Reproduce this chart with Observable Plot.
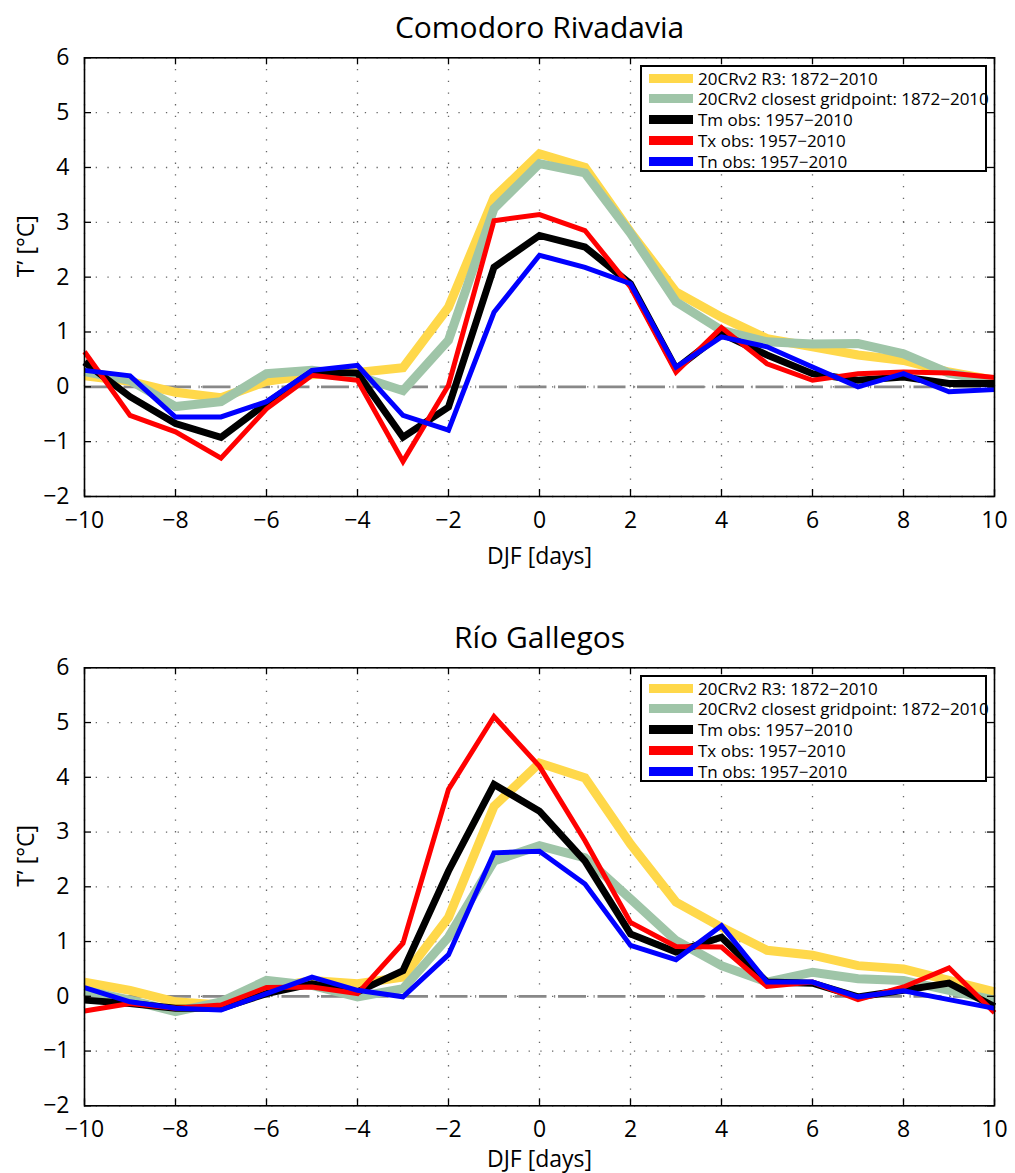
<!DOCTYPE html>
<html><head><meta charset="utf-8">
<script src="https://cdn.jsdelivr.net/npm/d3@7"></script>
<script src="https://cdn.jsdelivr.net/npm/@observablehq/plot@0.6"></script>
<style>
body{margin:0;background:#fff;font-family:"Open Sans",sans-serif;}
#wrap{position:relative;width:1015px;height:1173px;overflow:hidden;}
.panel{position:absolute;left:0;}
.panel svg{display:block;}
.legend{position:absolute;left:640px;width:343px;height:103px;border:2px solid #000;background:#fff;}
.row{position:absolute;left:7px;height:20px;display:flex;align-items:center;font-size:17px;white-space:nowrap;color:#000;}
.sw{width:44px;margin-right:5px;}
</style></head>
<body><div id="wrap"></div>
<script>
// ---- data ----
const days = [-10,-9,-8,-7,-6,-5,-4,-3,-2,-1,0,1,2,3,4,5,6,7,8,9,10];
const xTicks = [-10,-8,-6,-4,-2,0,2,4,6,8,10];
const yTicks = [-2,-1,0,1,2,3,4,5,6];
const seriesNames = ["20CRv2 R3: 1872\u22122010","20CRv2 closest gridpoint: 1872\u22122010","Tm obs: 1957\u22122010","Tx obs: 1957\u22122010","Tn obs: 1957\u22122010"];
const seriesColors = ["#FFD84A","#9FC5A8","#000000","#FF0000","#0000FF"];
const seriesWidths = [9,9,7,5,5];
const panelTitles = ["Comodoro Rivadavia","R\u00edo Gallegos"];

// Comodoro Rivadavia
const cr_r3   = [0.2,0.1,-0.1,-0.2,0.1,0.22,0.26,0.35,1.45,3.45,4.25,4.0,2.82,1.73,1.27,0.88,0.73,0.58,0.48,0.27,0.12];
const cr_grid = [0.28,0.12,-0.36,-0.27,0.24,0.3,0.2,-0.07,0.85,3.25,4.07,3.9,2.8,1.55,1.03,0.82,0.78,0.79,0.6,0.25,0.1];
const cr_tm   = [0.45,-0.18,-0.67,-0.92,-0.3,0.27,0.25,-0.92,-0.37,2.18,2.76,2.55,1.88,0.33,0.97,0.58,0.24,0.12,0.18,0.06,0.06];
const cr_tx   = [0.64,-0.52,-0.82,-1.3,-0.4,0.21,0.12,-1.36,0.03,3.03,3.14,2.85,1.82,0.27,1.08,0.42,0.12,0.24,0.27,0.25,0.17];
const cr_tn   = [0.3,0.2,-0.55,-0.55,-0.27,0.3,0.39,-0.52,-0.79,1.36,2.4,2.18,1.88,0.36,0.91,0.73,0.36,0.0,0.24,-0.09,-0.05];

// Río Gallegos
const rg_r3   = [0.26,0.11,-0.1,-0.16,0.14,0.29,0.23,0.35,1.44,3.47,4.26,3.99,2.78,1.72,1.26,0.84,0.75,0.56,0.5,0.29,0.08];
const rg_grid = [0.11,-0.07,-0.28,-0.1,0.29,0.2,-0.01,0.14,1.08,2.47,2.75,2.53,1.78,1.02,0.56,0.26,0.44,0.32,0.29,0.11,-0.07];
const rg_tm   = [-0.07,-0.13,-0.22,-0.22,0.05,0.23,0.08,0.47,2.29,3.87,3.38,2.47,1.14,0.81,1.08,0.26,0.24,-0.01,0.11,0.24,-0.19];
const rg_tx   = [-0.27,-0.13,-0.22,-0.16,0.16,0.17,0.05,0.97,3.78,5.11,4.2,2.84,1.35,0.91,0.9,0.18,0.26,-0.06,0.17,0.52,-0.3];
const rg_tn   = [0.16,-0.1,-0.22,-0.25,0.05,0.35,0.11,-0.01,0.76,2.62,2.65,2.05,0.93,0.67,1.29,0.26,0.26,-0.01,0.1,-0.06,-0.22];

// ---- drawing ----
const W = 1015, ML = 84, MR = 21, TICK = 7;
const fmt = d3.format("d");
const FONT = "'Open Sans', sans-serif";

function panel(title, vals, h, mt, mb, xlabDy) {
  const fh = h - mt - mb, fw = W - ML - MR;
  const lineMarks = seriesNames.map((name, k) => {
    const rows = days.map((d, i) => ({day: d, value: vals[k][i], series: name}));
    return Plot.line(rows, {x: "day", y: "value", stroke: seriesColors[k], strokeWidth: seriesWidths[k], strokeLinejoin: "miter", strokeMiterlimit: 10, strokeLinecap: "butt"});
  });
  return Plot.plot({
    width: W, height: h, marginLeft: ML, marginRight: MR, marginTop: mt, marginBottom: mb,
    style: {fontFamily: FONT, fontSize: "23px", color: "#000", background: "#fff", overflow: "visible"},
    x: {domain: [-10, 10]},
    y: {domain: [-2, 6]},
    marks: [
      Plot.ruleX(xTicks, {stroke: "#666", strokeWidth: 1.3, strokeDasharray: "1.3,10.4"}),
      Plot.ruleY(yTicks, {stroke: "#666", strokeWidth: 1.3, strokeDasharray: "1.3,10.4"}),
      Plot.ruleY([0], {stroke: "#888", strokeWidth: 2.7, strokeDasharray: "28,7.5,1.2,2.8"}),
      ...lineMarks,
      Plot.ruleX(xTicks, {insetTop: fh - TICK, stroke: "#000", strokeWidth: 1.3}),
      Plot.ruleX(xTicks, {insetBottom: fh - TICK, stroke: "#000", strokeWidth: 1.3}),
      Plot.ruleY(yTicks, {insetRight: fw - TICK, stroke: "#000", strokeWidth: 1.3}),
      Plot.ruleY(yTicks, {insetLeft: fw - TICK, stroke: "#000", strokeWidth: 1.3}),
      Plot.frame({stroke: "#000", strokeWidth: 1.6}),
      Plot.axisX(xTicks, {tickSize: 0, tickPadding: 15, tickFormat: fmt, fontSize: 23, label: null}),
      Plot.axisY(yTicks, {tickSize: 0, tickPadding: 15, tickFormat: fmt, fontSize: 23, label: null}),
      Plot.text([title], {frameAnchor: "top", lineAnchor: "bottom", dy: -20, fontSize: 30, fill: "#000"}),
      Plot.text(["DJF [days]"], {frameAnchor: "bottom", lineAnchor: "top", dy: xlabDy, fontSize: 23, fill: "#000"}),
      Plot.text(["T\u2019 [\u00b0C]"], {frameAnchor: "left", rotate: -90, dx: -58, fontSize: 23, fill: "#000"})
    ]
  });
}

function legend(top) {
  const box = document.createElement("div");
  box.className = "legend";
  box.style.top = top + "px";
  seriesNames.forEach((name, k) => {
    const row = document.createElement("div");
    row.className = "row";
    row.style.top = (1.3 + 20.8 * k) + "px";
    const sw = document.createElement("div");
    sw.className = "sw";
    sw.style.height = "9px";
    sw.style.background = seriesColors[k];
    const t = document.createElement("span");
    t.textContent = name;
    row.appendChild(sw); row.appendChild(t);
    box.appendChild(row);
  });
  return box;
}

const wrap = document.getElementById("wrap");
const layouts = [
  {top: 0, h: 580, mt: 57.3, mb: 84, xlabDy: 51, vals: [cr_r3, cr_grid, cr_tm, cr_tx, cr_tn]},
  {top: 580, h: 593, mt: 87.3, mb: 67.7, xlabDy: 45, vals: [rg_r3, rg_grid, rg_tm, rg_tx, rg_tn]}
];
layouts.forEach((L, i) => {
  const div = document.createElement("div");
  div.className = "panel";
  div.style.top = L.top + "px";
  div.appendChild(panel(panelTitles[i], L.vals, L.h, L.mt, L.mb, L.xlabDy));
  wrap.appendChild(div);
  wrap.appendChild(legend(L.top + L.mt + 7.5));
});
</script></body></html>
